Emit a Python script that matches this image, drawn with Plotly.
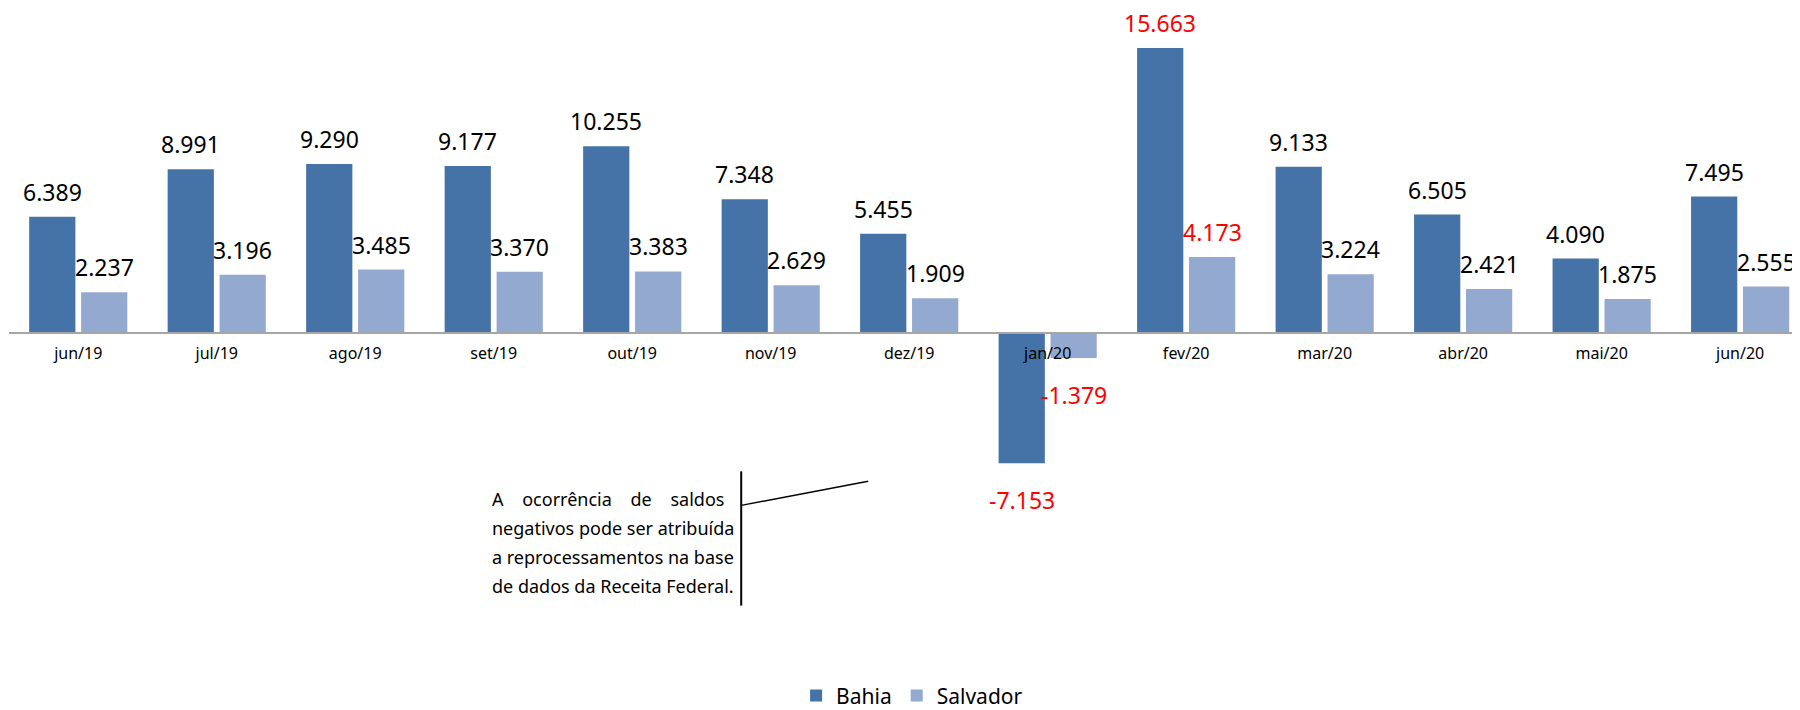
import plotly.graph_objects as go

categories = ["jun/19", "jul/19", "ago/19", "set/19", "out/19", "nov/19", "dez/19",
              "jan/20", "fev/20", "mar/20", "abr/20", "mai/20", "jun/20"]
bahia = [6389, 8991, 9290, 9177, 10255, 7348, 5455, -7153, 15663, 9133, 6505, 4090, 7495]
salvador = [2237, 3196, 3485, 3370, 3383, 2629, 1909, -1379, 4173, 3224, 2421, 1875, 2555]
highlight = ["jan/20", "fev/20"]
note_lines = ["A\u00a0\u00a0\u00a0 ocorrência\u00a0\u00a0\u00a0 de\u00a0\u00a0\u00a0 saldos",
              "negativos pode ser atribuída",
              "a reprocessamentos na base",
              "de dados da Receita Federal."]

C_BAHIA = "#4573A7"
C_SALV = "#94A9D0"
FONT = "Noto Sans"
BARGAP = 0.25
GROUPGAP = 0.11

fig = go.Figure()
series = [("Bahia", bahia, C_BAHIA), ("Salvador", salvador, C_SALV)]
for name, vals, col in series:
    fig.add_trace(go.Bar(name=name, x=categories, y=vals,
                         marker=dict(color=col, line=dict(width=0))))

# value labels, positioned through the axes
slot = (1 - BARGAP) / len(series)
for si, (name, vals, col) in enumerate(series):
    off = -(1 - BARGAP) / 2 + slot * (si + 0.5)
    for ci, (cat, v) in enumerate(zip(categories, vals)):
        color = "#FF0000" if cat in highlight else "#000000"
        txt = f"{v:,}".replace(",", ".")
        fig.add_annotation(x=ci + off, y=v, xref="x", yref="y", text=txt, showarrow=False,
                           xanchor="center", yanchor="bottom" if v >= 0 else "top",
                           yshift=8 if v >= 0 else -20, borderpad=0,
                           font=dict(family=FONT, size=23, color=color))

ymin, ymax = -17417, 17637
fig.update_layout(
    width=1800, height=710,
    margin=dict(l=1, r=0, t=4, b=68, autoexpand=False),
    plot_bgcolor="white", paper_bgcolor="white",
    barmode="group", bargap=BARGAP, bargroupgap=GROUPGAP,
    font=dict(family=FONT, color="#000000"),
    xaxis=dict(range=[-0.5, 12.49], showgrid=False, showline=True, linecolor="#A6A6A6",
               linewidth=2, ticks="", anchor="free", position=-ymin / (ymax - ymin),
               tickfont=dict(family=FONT, size=16, color="#000000"), ticklabelstandoff=6,
               layer="above traces"),
    yaxis=dict(range=[ymin, ymax], visible=False, showgrid=False, zeroline=False),
    legend=dict(orientation="h", x=0.502, xanchor="center", y=-0.072, yanchor="middle",
                font=dict(family=FONT, size=21), traceorder="normal"),
    showlegend=True,
)

# callout lines
fig.add_shape(type="line", x0=4.787, x1=4.787, y0=-7599, y1=-14978,
              line=dict(color="black", width=2), xref="x", yref="y")
fig.add_shape(type="line", x0=4.787, x1=5.704, y0=-9471, y1=-8150,
              line=dict(color="black", width=1.5), xref="x", yref="y")

for i, line in enumerate(note_lines):
    fig.add_annotation(x=2.97, y=-8350, xref="x", yref="y", text=line, showarrow=False,
                       xanchor="left", yanchor="top", yshift=-29 * i, align="left",
                       font=dict(family=FONT, size=18, color="black"))

fig.write_html("out.html")
